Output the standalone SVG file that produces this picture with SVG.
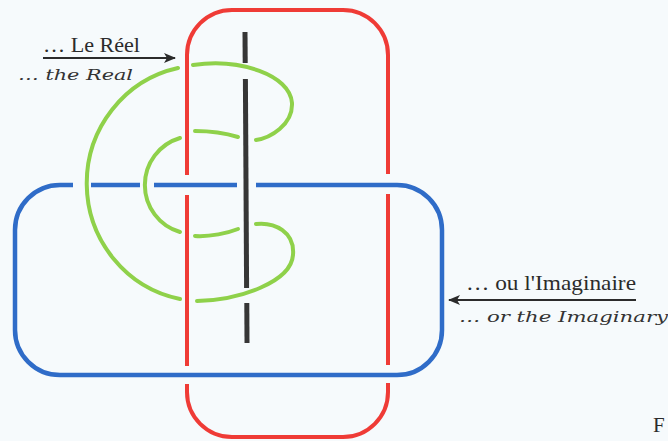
<svg xmlns="http://www.w3.org/2000/svg" width="668" height="441" viewBox="0 0 668 441">
<style>
.red{fill:none;stroke:#ef3b36;stroke-width:4;stroke-linecap:butt}
.blue{fill:none;stroke:#2f6cc8;stroke-width:4.5;stroke-linecap:butt}
.green{fill:none;stroke:#8fd14a;stroke-width:4;stroke-linecap:round}
.black{fill:none;stroke:#363636;stroke-width:5;stroke-linecap:butt}
.lbl{font-family:"Liberation Serif","DejaVu Serif",serif;font-size:21px;fill:#2b2b2b}
.hand{font-family:"DejaVu Serif","Liberation Serif",serif;font-style:italic;font-size:15px;fill:#333}
.arr{stroke:#2b2b2b;stroke-width:2.2;fill:none}
</style>
<defs>
<marker id="ah" markerWidth="12" markerHeight="10" refX="11" refY="5" orient="auto" markerUnits="userSpaceOnUse">
<path d="M0,0 L12,5 L0,10 L3,5 Z" fill="#2b2b2b"/>
</marker>
</defs>
<rect width="668" height="441" fill="#f6fafc"/>
<g id="real">
<path class="red" d="M187,175 L187,55 A45,45 0 0 1 232,10 L343,10 A45,45 0 0 1 388,55 L388,174"/>
<path class="red" d="M187,195 L187,366"/>
<path class="red" d="M388,194 L388,365"/>
<path class="red" d="M187,384 L187,392 A45,45 0 0 0 232,437 L343,437 A45,45 0 0 0 388,392 L388,383"/>
</g>
<g id="imaginary">
<path class="blue" d="M73,185 L60,185 A45,45 0 0 0 15,230 L15,330 A45,45 0 0 0 60,375 L397,375 A45,45 0 0 0 442,330 L442,230 A45,45 0 0 0 397,185 L256,185"/>
<path class="blue" d="M237,185 L154,185"/>
<path class="blue" d="M140,185 L91,185"/>
</g>
<g id="symbolic">
<path class="green" d="M193,65 C240,58 290,75 292,103 C293,125 270,138 256,140"/>
<path class="green" d="M238,137 C225,133 210,131 195,131"/>
<path class="green" d="M180,138 A49,49 0 0 0 180,232"/>
<path class="green" d="M195,236 C210,237 228,233 238,229"/>
<path class="green" d="M256,224 C275,222 295,232 293,255 C291,282 240,300 197,301"/>
<path class="green" d="M180,299 A116,118 0 0 1 178,68"/>
</g>
<g id="line">
<path class="black" d="M245,32 L245.2,63"/>
<path class="black" d="M245.4,79 L246.6,288"/>
<path class="black" d="M246.8,303 L247,343"/>
</g>
<g id="connectors">
<line class="arr" x1="43" y1="58" x2="175" y2="58" marker-end="url(#ah)"/>
<line class="arr" x1="636" y1="300" x2="449" y2="300" marker-end="url(#ah)"/>
</g>
<g id="labels">
<text class="lbl" x="43" y="52" textLength="97" lengthAdjust="spacingAndGlyphs">… Le Réel</text>
<text class="hand" x="18" y="80" textLength="115" lengthAdjust="spacingAndGlyphs">… the Real</text>
<text class="lbl" x="466" y="290" textLength="170" lengthAdjust="spacingAndGlyphs">… ou l'Imaginaire</text>
<text class="hand" x="459" y="322" textLength="209" lengthAdjust="spacingAndGlyphs">… or the Imaginary</text>
<text class="lbl" x="653" y="432">F</text>
</g>
</svg>
